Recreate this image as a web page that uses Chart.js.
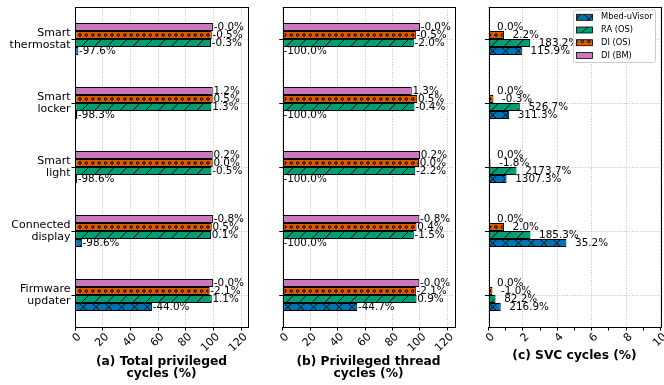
<!DOCTYPE html>
<html>
<head>
<meta charset="utf-8">
<script src="https://cdn.jsdelivr.net/npm/chart.js@4.4.1/dist/chart.umd.min.js"></script>
<style>
  html, body { margin: 0; padding: 0; background: #fff; }
  #wrap { position: relative; width: 664px; height: 385px; overflow: hidden; }
  #wrap canvas { position: absolute; left: 0; top: 0; }
</style>
</head>
<body>
<div id="wrap">
  <canvas id="chartA" width="664" height="385"></canvas>
  <canvas id="chartB" width="664" height="385"></canvas>
  <canvas id="chartC" width="664" height="385"></canvas>
</div>
<script>
// ---- data ----
const categories = ["Smart thermostat", "Smart locker", "Smart light", "Connected display", "Firmware updater"];
const seriesNames = ["Mbed-uVisor", "RA (OS)", "DI (OS)", "DI (BM)"];

// (a) total privileged cycles (%)
const totalUvisor = [2.4, 1.7, 1.4, 5.0, 55.6];
const totalRaOs   = [98.3, 98.6, 98.6, 98.3, 98.8];
const totalDiOs   = [98.8, 99.5, 99.5, 98.8, 97.3];
const totalDiBm   = [99.8, 99.5, 99.5, 99.8, 99.8];
const totalUvisorLbl = ["-97.6%", "-98.3%", "-98.6%", "-98.6%", "-44.0%"];
const totalRaOsLbl   = ["-0.3%", "1.3%", "-0.5%", "0.1%", "1.1%"];
const totalDiOsLbl   = ["-0.5%", "0.5%", "0.0%", "0.5%", "-2.1%"];
const totalDiBmLbl   = ["-0.0%", "1.2%", "0.2%", "-0.8%", "-0.0%"];

// (b) privileged thread cycles (%)
const threadUvisor = [0, 0, 0, 0, 54.3];
const threadRaOs   = [95.5, 96.0, 96.6, 95.5, 97.5];
const threadDiOs   = [97.0, 98.0, 99.3, 97.5, 97.0];
const threadDiBm   = [100, 94.0, 100, 99.5, 99.5];
const threadUvisorLbl = ["-100.0%", "-100.0%", "-100.0%", "-100.0%", "-44.7%"];
const threadRaOsLbl   = ["-2.0%", "-0.4%", "-2.2%", "-1.5%", "0.9%"];
const threadDiOsLbl   = ["-0.5%", "0.5%", "0.0%", "0.4%", "-2.1%"];
const threadDiBmLbl   = ["-0.0%", "1.3%", "0.2%", "-0.8%", "-0.0%"];

// (c) SVC cycles (%)
const svcUvisor = [1.94, 1.2, 1.05, 4.53, 0.71];
const svcRaOs   = [2.42, 1.82, 1.63, 2.44, 0.41];
const svcDiOs   = [0.9, 0.29, 0.12, 0.9, 0.23];
const svcDiBm   = [0, 0, 0, 0, 0];
const svcUvisorLbl = ["115.9%", "311.3%", "1307.3%", "35.2%", "216.9%"];
const svcRaOsLbl   = ["183.2%", "526.7%", "2173.7%", "185.3%", "82.2%"];
const svcDiOsLbl   = ["2.2%", "-0.3%", "-1.8%", "2.0%", "-1.0%"];
const svcDiBmLbl   = ["0.0%", "0.0%", "0.0%", "0.0%", "0.0%"];

const FONT = "'DejaVu Sans', sans-serif";
Chart.defaults.font.family = FONT;
Chart.defaults.color = "#000";

// ---- hatch patterns ----
const P = 12.8;
function tile(bg, draw) {
  const cv = document.createElement("canvas");
  cv.width = 64; cv.height = 64;
  const g = cv.getContext("2d");
  g.fillStyle = bg; g.fillRect(0, 0, 64, 64);
  g.strokeStyle = "#000"; g.lineWidth = 1;
  if (draw) draw(g);
  return g.createPattern(cv, "repeat");
}
function slashes(g) {
  g.beginPath();
  for (let k = -6; k <= 11; k++) { g.moveTo(k * P, 0); g.lineTo(k * P - 64, 64); }
  g.stroke();
}
function backslashes(g) {
  g.beginPath();
  for (let k = -6; k <= 6; k++) { g.moveTo(k * P, 0); g.lineTo(k * P + 64, 64); }
  g.stroke();
}
const crossPat = tile("#0173B2", (g) => { slashes(g); backslashes(g); });
const slashPat = tile("#029E73", slashes);
const dotsPat = tile("#D55E00", (g) => {
  for (let j = 0; j <= 10; j++) {
    for (let i = -1; i <= 11; i++) {
      g.beginPath();
      g.arc(i * 6.4 + (j % 2 ? 3.2 : 0), j * 6.4, 1.3, 0, Math.PI * 2);
      g.stroke();
    }
  }
});
const pinkFill = "#CC78BC";

function drawLegend(ctx) {
  const x = 573.5, y = 10, w = 82, h = 52.5;
  ctx.beginPath();
  ctx.roundRect(x, y, w, h, 2);
  ctx.fillStyle = "rgba(255,255,255,0.8)";
  ctx.fill();
  ctx.strokeStyle = "#cccccc"; ctx.lineWidth = 1;
  ctx.stroke();
  const fills = [crossPat, slashPat, dotsPat, pinkFill];
  ctx.font = "8.3px " + FONT;
  ctx.textAlign = "left"; ctx.textBaseline = "middle";
  seriesNames.forEach((name, i) => {
    const cy = 17.3 + i * 12.7;
    ctx.fillStyle = fills[i];
    ctx.fillRect(576.5, cy - 3, 16, 6);
    ctx.strokeStyle = "#000"; ctx.lineWidth = 0.8;
    ctx.strokeRect(576.5, cy - 3, 16, 6);
    ctx.fillStyle = "#000";
    ctx.fillText(name, 601, cy);
  });
}

function makeDeco(labels, withLegend) {
  return {
    id: "panelDeco",
    beforeDatasetsDraw(chart) {
      const c0 = chart.scales.y.getPixelForValue(0);
      dotsPat.setTransform(new DOMMatrix().translate(0, (c0 - 4) % 6.4));
      crossPat.setTransform(new DOMMatrix().translate(0, (c0 + 12) % 6.4));
    },
    afterDatasetsDraw(chart) {
      const { ctx, chartArea: a, scales: { x } } = chart;
      ctx.save();
      ctx.strokeStyle = "#000"; ctx.lineWidth = 1;
      ctx.strokeRect(Math.round(a.left) + 0.5, Math.round(a.top) + 0.5,
        Math.round(a.right - a.left), Math.round(a.bottom - a.top));
      ctx.font = "10.4px " + FONT;
      ctx.fillStyle = "#000";
      ctx.textAlign = "left"; ctx.textBaseline = "middle";
      chart.data.datasets.forEach((ds, i) => {
        chart.getDatasetMeta(i).data.forEach((bar, j) => {
          ctx.fillText(labels[i][j], x.getPixelForValue(ds.data[j] + 0.5), bar.y);
        });
      });
      if (withLegend) drawLegend(ctx);
      ctx.restore();
    }
  };
}

function makePanel(id, p) {
  const datasets = [
    { label: seriesNames[3], data: p.values[0], backgroundColor: pinkFill },
    { label: seriesNames[2], data: p.values[1], backgroundColor: dotsPat },
    { label: seriesNames[1], data: p.values[2], backgroundColor: slashPat },
    { label: seriesNames[0], data: p.values[3], backgroundColor: crossPat }
  ].map((d) => Object.assign(d, {
    borderColor: "#000", borderWidth: 1, borderSkipped: false,
    barPercentage: 1, categoryPercentage: 0.5
  }));

  new Chart(document.getElementById(id), {
    type: "bar",
    data: { labels: categories.map((c) => c.split(" ")), datasets },
    options: {
      indexAxis: "y",
      responsive: false,
      animation: false,
      layout: { padding: { left: p.left - p.yWidth, right: 664 - p.right, top: 7, bottom: 4.4 } },
      plugins: { legend: { display: false }, tooltip: { enabled: false } },
      scales: {
        x: {
          type: "linear", min: 0, max: p.xMax,
          afterFit: (s) => { s.height = 53.6; s.paddingLeft = 0; s.paddingRight = 0; },
          border: { display: false, dash: [1, 1.6] },
          grid: {
            color: p.oddHidden ? (c) => (c.tick && c.tick.value % 2 ? "rgba(0,0,0,0)" : "#b0b0b0") : "#b0b0b0",
            lineWidth: 0.8, tickColor: "#000", tickWidth: 1, tickLength: 3.5, tickBorderDash: []
          },
          ticks: {
            stepSize: p.step, includeBounds: false, autoSkip: false,
            minRotation: 45, maxRotation: 45, padding: 0, labelOffset: 4.5,
            font: { size: 11 }, color: "#000",
            callback: (v) => (p.oddHidden && v % 2 ? "" : String(v))
          },
          title: {
            display: true, text: p.title, color: "#000",
            font: { size: 12.25, weight: "bold", lineHeight: 1.04 },
            padding: { top: 0, bottom: p.titlePad }
          }
        },
        y: {
          type: "category", offset: true,
          afterFit: (s) => { s.width = p.yWidth; s.paddingTop = 0; s.paddingBottom = 0; },
          border: { display: false, dash: [1, 1.6] },
          grid: {
            offset: false, color: "#b0b0b0", lineWidth: 0.8,
            tickColor: "#000", tickWidth: 1, tickLength: 3.5, tickBorderDash: []
          },
          ticks: {
            display: p.showY, padding: 1, color: "#000",
            font: { size: 11, lineHeight: 1.06 }
          }
        }
      }
    },
    plugins: [makeDeco(p.labels, p.legend)]
  });
}

makePanel("chartA", {
  values: [totalDiBm, totalDiOs, totalRaOs, totalUvisor],
  labels: [totalDiBmLbl, totalDiOsLbl, totalRaOsLbl, totalUvisorLbl],
  left: 75, right: 248, yWidth: 70, xMax: 125, step: 20, showY: true,
  title: ["(a) Total privileged", "cycles (%)"], titlePad: 0
});
makePanel("chartB", {
  values: [threadDiBm, threadDiOs, threadRaOs, threadUvisor],
  labels: [threadDiBmLbl, threadDiOsLbl, threadRaOsLbl, threadUvisorLbl],
  left: 282.7, right: 454.3, yWidth: 20, xMax: 125, step: 20, showY: false,
  title: ["(b) Privileged thread", "cycles (%)"], titlePad: 0
});
makePanel("chartC", {
  values: [svcDiBm, svcDiOs, svcRaOs, svcUvisor],
  labels: [svcDiBmLbl, svcDiOsLbl, svcRaOsLbl, svcUvisorLbl],
  left: 488.5, right: 660.5, yWidth: 20, xMax: 10, step: 1, showY: false, oddHidden: true,
  title: "(c) SVC cycles (%)", titlePad: 18.3, legend: true
});
</script>
</body>
</html>
